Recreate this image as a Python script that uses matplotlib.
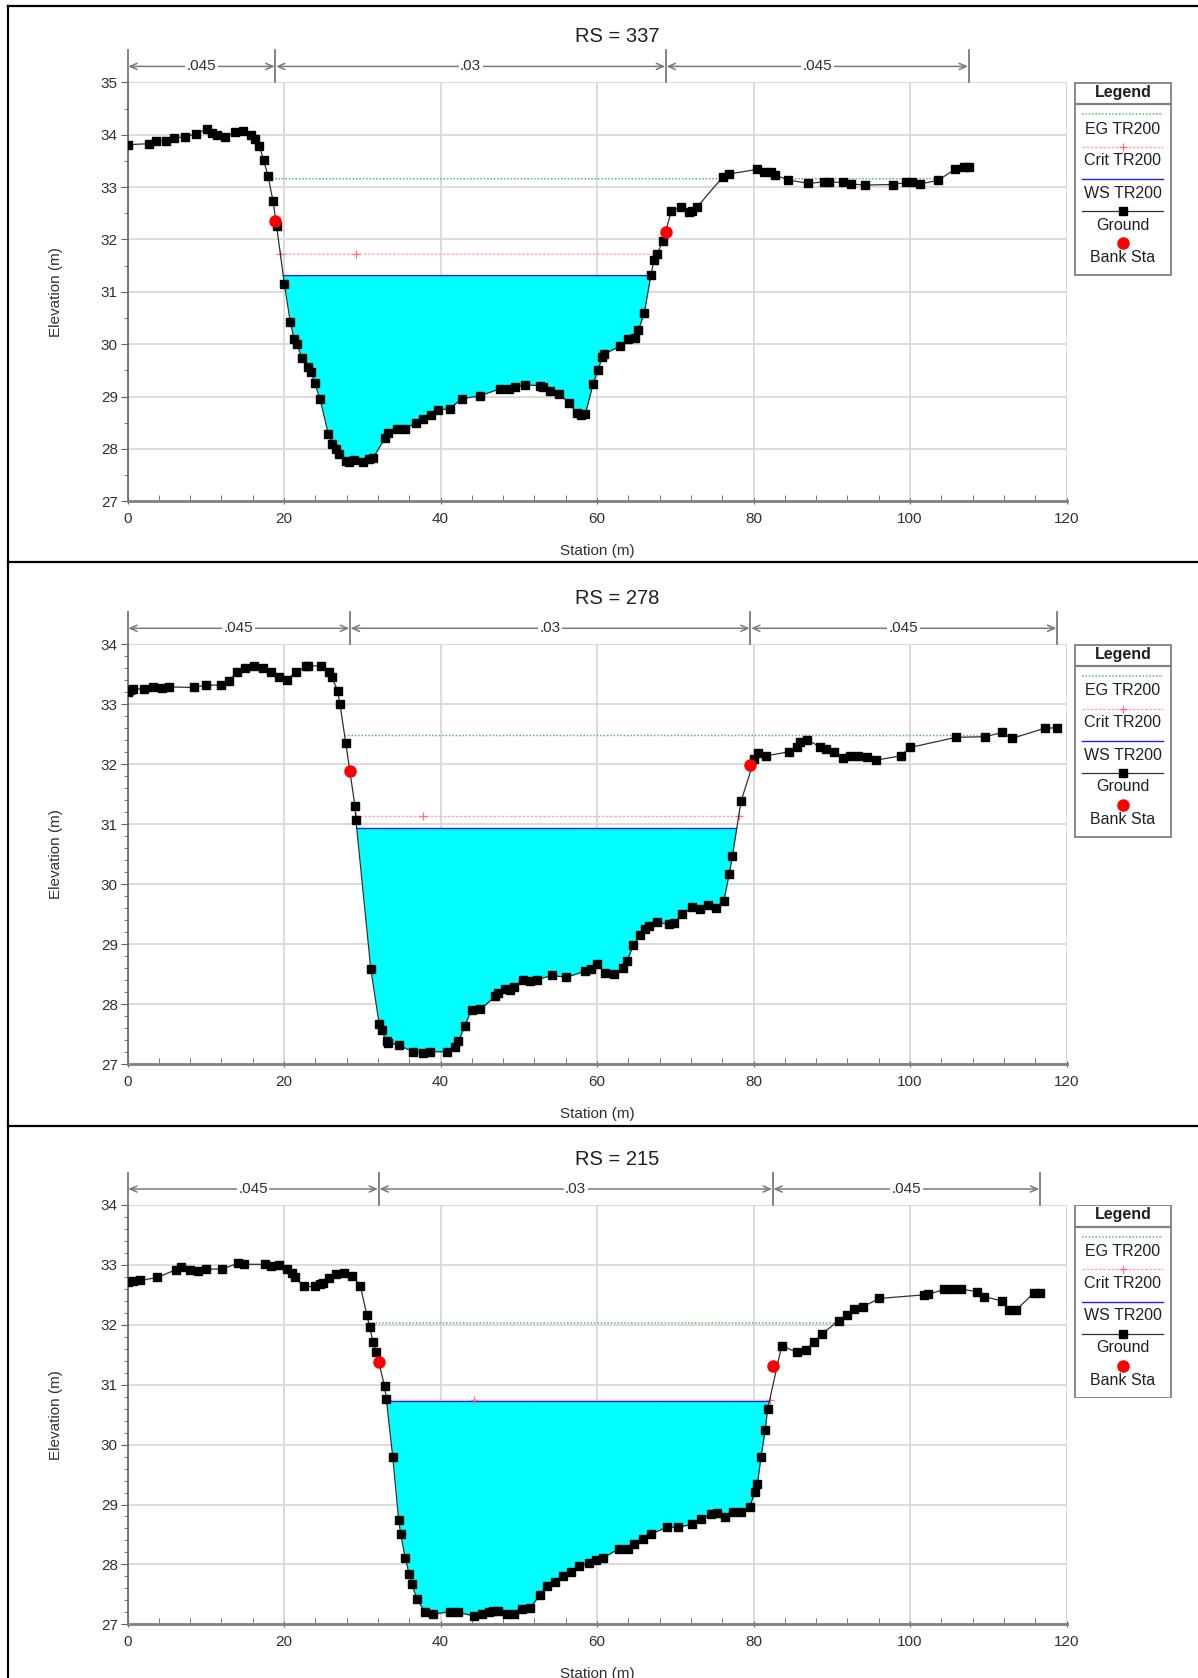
import numpy as np
import matplotlib
matplotlib.use("Agg")
import matplotlib.pyplot as plt
import matplotlib.transforms as mtransforms
from matplotlib.patches import Rectangle

plt.rcParams['font.family'] = ['Liberation Sans', 'DejaVu Sans']

# ---------------- data ----------------
rs_labels = ['RS = 337', 'RS = 278', 'RS = 215']
n_labels = ['.045', '.03', '.045']
legend_labels = ['EG TR200', 'Crit TR200', 'WS TR200', 'Ground', 'Bank Sta']

sta_337 = [0, 2.8, 3.7, 4.9, 6.0, 7.3, 8.75, 10.2, 10.8, 11.5, 12.5, 13.7, 14.8, 15.8, 16.35, 16.85,
           17.4, 17.95, 18.6, 19.05, 20.05, 20.8, 21.3, 21.6, 22.3, 23.1, 23.5, 23.9, 24.6, 25.65,
           26.15, 26.6, 27.05, 27.9, 28.3, 28.9, 30.1, 30.8, 31.4, 32.9, 33.35, 34.5, 35.5, 36.85,
           37.7, 38.8, 39.7, 41.2, 42.7, 45.0, 47.6, 48.8, 49.5, 50.8, 52.7, 53.1, 54.0, 55.2,
           56.4, 57.4, 57.95, 58.5, 59.5, 60.1, 60.7, 60.9, 62.9, 64.0, 64.9, 65.3, 66.05, 66.9,
           67.3, 67.7, 68.45, 69.5, 70.7, 71.7, 72.15, 72.8, 76.1, 76.85, 80.5, 81.4, 82.2, 82.8,
           84.35, 87.0, 88.95, 89.6, 91.4, 92.5, 94.2, 97.8, 99.5, 100.25, 101.3, 103.6, 105.75,
           106.9, 107.5]
elev_337 = [33.81, 33.83, 33.89, 33.89, 33.94, 33.96, 34.02, 34.11, 34.04, 33.99, 33.96, 34.05, 34.08,
            34.00, 33.92, 33.79, 33.51, 33.22, 32.73, 32.26, 31.15, 30.42, 30.10, 30.01, 29.74, 29.57,
            29.47, 29.26, 28.96, 28.29, 28.10, 28.00, 27.91, 27.77, 27.76, 27.79, 27.75, 27.81, 27.83,
            28.21, 28.30, 28.38, 28.39, 28.50, 28.58, 28.64, 28.74, 28.77, 28.96, 29.01, 29.15, 29.15,
            29.18, 29.22, 29.21, 29.18, 29.11, 29.04, 28.88, 28.68, 28.64, 28.66, 29.24, 29.50, 29.76,
            29.81, 29.96, 30.10, 30.12, 30.27, 30.60, 31.33, 31.61, 31.73, 31.98, 32.54, 32.62, 32.52,
            32.55, 32.62, 33.20, 33.25, 33.34, 33.29, 33.28, 33.23, 33.14, 33.07, 33.10, 33.10, 33.09,
            33.06, 33.04, 33.05, 33.09, 33.09, 33.06, 33.13, 33.34, 33.38, 33.38]

sta_278 = [0, 0.3, 0.72, 2.13, 3.28, 4.35, 5.33, 8.48, 10.0, 11.9, 12.95, 13.93, 15.04, 16.15, 17.26,
           18.4, 19.34, 20.4, 21.5, 22.75, 23.1, 24.67, 25.78, 26.08, 26.84, 27.14, 27.9, 29.06, 29.19,
           31.1, 32.17, 32.47, 33.1, 33.3, 34.64, 36.5, 37.7, 38.7, 40.8, 41.8, 42.3, 43.1, 43.97,
           45.1, 47.0, 47.4, 48.2, 48.9, 49.4, 50.5, 51.5, 52.3, 54.2, 56.1, 58.45, 59.2, 60.0, 61.0,
           62.2, 63.3, 63.85, 64.65, 65.55, 66.15, 66.6, 67.7, 69.2, 69.8, 70.9, 72.2, 73.1, 74.2,
           75.15, 76.2, 76.9, 77.3, 78.4, 80.1, 80.6, 81.6, 84.6, 85.5, 85.9, 86.85, 88.5, 89.3, 90.3,
           91.4, 92.3, 93.4, 94.5, 95.7, 98.8, 100.0, 105.9, 109.6, 111.8, 113.0, 117.2, 118.8]
elev_278 = [33.21, 33.24, 33.25, 33.26, 33.28, 33.27, 33.29, 33.28, 33.32, 33.32, 33.39, 33.54, 33.60,
            33.64, 33.61, 33.53, 33.45, 33.41, 33.54, 33.63, 33.64, 33.64, 33.54, 33.46, 33.23, 33.01,
            32.35, 31.31, 31.07, 28.58, 27.67, 27.57, 27.38, 27.36, 27.32, 27.21, 27.18, 27.21, 27.21,
            27.28, 27.38, 27.64, 27.91, 27.92, 28.13, 28.18, 28.25, 28.24, 28.28, 28.41, 28.39, 28.41,
            28.48, 28.45, 28.55, 28.59, 28.67, 28.52, 28.50, 28.60, 28.72, 28.99, 29.16, 29.25, 29.30,
            29.37, 29.33, 29.35, 29.50, 29.62, 29.59, 29.65, 29.61, 29.72, 30.17, 30.47, 31.38, 32.08,
            32.18, 32.14, 32.21, 32.29, 32.37, 32.41, 32.29, 32.25, 32.21, 32.11, 32.13, 32.13, 32.12,
            32.07, 32.14, 32.28, 32.45, 32.46, 32.53, 32.43, 32.60, 32.61]

sta_215 = [0, 0.64, 1.66, 3.8, 6.19, 6.83, 7.98, 8.96, 10.03, 12.12, 14.17, 14.94, 17.58, 18.3, 19.38,
           20.44, 21.0, 21.4, 22.5, 24.0, 24.6, 24.97, 25.8, 26.6, 27.7, 28.7, 29.75, 30.6, 30.94,
           31.37, 31.8, 32.86, 33.08, 33.9, 34.66, 34.91, 35.5, 36.0, 36.3, 37.0, 38.0, 39.05, 41.2,
           42.25, 44.26, 45.3, 46.2, 46.7, 47.4, 48.5, 49.4, 50.45, 51.5, 52.7, 53.65, 54.6, 55.6,
           56.65, 57.7, 59.0, 59.9, 60.8, 62.8, 63.9, 64.7, 65.9, 66.96, 68.9, 70.4, 72.2, 73.3, 74.6,
           75.3, 76.3, 77.35, 78.4, 79.5, 80.2, 80.5, 80.96, 81.5, 81.8, 83.6, 85.6, 86.7, 87.75, 88.8,
           90.87, 91.9, 92.9, 93.95, 96.1, 101.8, 102.3, 104.4, 105.4, 106.5, 108.6, 109.5, 111.7,
           112.65, 113.6, 115.8, 116.6]
elev_215 = [32.71, 32.73, 32.74, 32.79, 32.92, 32.96, 32.91, 32.90, 32.93, 32.93, 33.03, 33.01, 33.01,
            32.98, 32.99, 32.93, 32.86, 32.80, 32.64, 32.64, 32.68, 32.70, 32.78, 32.85, 32.86, 32.82,
            32.65, 32.16, 31.96, 31.72, 31.55, 30.97, 30.76, 29.79, 28.74, 28.51, 28.10, 27.84, 27.68,
            27.42, 27.21, 27.17, 27.21, 27.20, 27.14, 27.17, 27.21, 27.22, 27.22, 27.17, 27.18, 27.26,
            27.28, 27.49, 27.64, 27.71, 27.81, 27.87, 27.97, 28.02, 28.08, 28.11, 28.26, 28.26, 28.34,
            28.42, 28.51, 28.62, 28.62, 28.67, 28.75, 28.84, 28.85, 28.79, 28.87, 28.88, 28.96, 29.21,
            29.35, 29.79, 30.25, 30.59, 31.65, 31.54, 31.58, 31.72, 31.85, 32.07, 32.16, 32.26, 32.30,
            32.44, 32.50, 32.51, 32.59, 32.60, 32.60, 32.55, 32.47, 32.40, 32.25, 32.25, 32.53, 32.53]

bank_sta_337 = [18.9, 68.8]
bank_elev_337 = [32.36, 32.15]
bank_sta_278 = [28.42, 79.6]
bank_elev_278 = [31.88, 31.98]
bank_sta_215 = [32.1, 82.45]
bank_elev_215 = [31.38, 31.32]

ws_levels = [31.31, 30.93, 30.72]
eg_levels = [33.16, 32.48, 32.03]
crit_levels = [31.72, 31.13, 30.74]
crit_mark_sta = [29.2, 37.7, 44.3]

y_limits = [(27, 35), (27, 34), (27, 34)]
y_minor = [0.5, 0.2, 0.2]

# ---------------- layout (pixels) ----------------
W, H = 1198, 1678
fig = plt.figure(figsize=(W / 100, H / 100), dpi=100)

ax_left, ax_right = 127.5, 1066.5
ax_tops = [82.4, 644.3, 1205.0]
ax_bots = [501.3, 1064.3, 1624.3]
title_y = [36.5, 598.5, 1159.5]

def fx(px):
    return px / W

def fy(py):
    return 1 - py / H

sections = [
    (sta_337, elev_337, bank_sta_337, bank_elev_337),
    (sta_278, elev_278, bank_sta_278, bank_elev_278),
    (sta_215, elev_215, bank_sta_215, bank_elev_215),
]

tick_col = '#303030'
grid_col = '#d9d9d9'
arrow_col = '#7a7a7a'
crit_col = '#ffaaaa'

for i, (sta, elev, bsta, belev) in enumerate(sections):
    sta = np.array(sta, float)
    elev = np.array(elev, float)
    top, bot = ax_tops[i], ax_bots[i]
    hpx = bot - top
    ax = fig.add_axes([fx(ax_left), fy(bot), fx(ax_right - ax_left), hpx / H])
    ax.set_xlim(0, 120)
    ax.set_ylim(*y_limits[i])

    ws, eg, crit = ws_levels[i], eg_levels[i], crit_levels[i]
    xs = np.linspace(sta[0], sta[-1], 8000)
    g = np.interp(xs, sta, elev)

    # water fill
    ax.fill_between(sta, elev, ws, where=elev < ws, interpolate=True,
                    color='#00ffff', linewidth=0, zorder=2)
    # WS line
    ax.plot(xs, np.where(g < ws, ws, np.nan), color='#2020ff', lw=1.0, zorder=3)
    # Crit line
    cm = g < crit
    ax.plot(xs, np.where(cm, crit, np.nan), color=crit_col, lw=1.0,
            linestyle=(0, (2, 1)), zorder=3)
    cx = xs[cm]
    ax.plot([cx[0], crit_mark_sta[i], cx[-1]], [crit, crit, crit], linestyle='none',
            marker='+', color='#ff7070', markersize=6, markeredgewidth=0.9, zorder=3)
    # EG line
    ax.plot(xs, np.where(g < eg, eg, np.nan), color='#5fb85f', lw=1.1,
            linestyle=(0, (1, 1.2)), zorder=3)
    # Ground
    ax.plot(sta, elev, color='#303030', lw=0.9, marker='s', markersize=5.3,
            markerfacecolor='black', markeredgecolor='black', zorder=4)
    # Bank stations
    ax.plot(bsta, belev, linestyle='none', marker='o', markersize=8,
            color='#ff0000', zorder=5)

    # axes styling
    ax.set_xticks(np.arange(0, 121, 20))
    ax.set_xticks(np.arange(0, 121, 4), minor=True)
    y0, y1 = y_limits[i]
    ax.set_yticks(np.arange(y0, y1 + 0.01, 1))
    ax.set_yticks(np.arange(y0, y1 + 1e-6, y_minor[i]), minor=True)
    ax.grid(True, which='major', color=grid_col, lw=1.3, zorder=0)
    ax.set_axisbelow(True)
    for s in ['top', 'right']:
        ax.spines[s].set_visible(False)
    ax.spines['left'].set_color('#606060')
    ax.spines['bottom'].set_color('#808080')
    ax.spines['left'].set_linewidth(1.2)
    ax.spines['bottom'].set_linewidth(2.0)
    ax.tick_params(axis='both', which='both', colors='#606060', labelcolor=tick_col,
                   labelsize=11)
    ax.tick_params(axis='y', which='major', length=5, direction='out', pad=2)
    ax.tick_params(axis='y', which='minor', length=3, direction='out')
    ax.tick_params(axis='x', which='major', length=5, direction='inout', pad=5)
    ax.tick_params(axis='x', which='minor', length=4, direction='in')
    # top/right grid borders
    ax.axhline(y1, color=grid_col, lw=1.3, zorder=0)
    ax.axvline(120, color=grid_col, lw=1.3, zorder=0)

    ax.text(0.5, -50.0 / hpx, 'Station (m)', transform=ax.transAxes, ha='center',
            va='center', fontsize=11, color=tick_col)
    fig.text(fx(56), fy((top + bot) / 2), 'Elevation (m)', rotation=90, ha='center',
             va='center', fontsize=11, color=tick_col)
    fig.text(fx(617), fy(title_y[i]), rs_labels[i], ha='center', va='center',
             fontsize=14.5, color='#202020')

    # Manning's n annotation above the plot
    trans = mtransforms.blended_transform_factory(ax.transData, ax.transAxes)
    bounds = [0.0, bsta[0], bsta[1], sta[-1]]
    yv = 1 + 32.0 / hpx
    ya = 1 + 16.0 / hpx
    for b in bounds:
        ax.plot([b, b], [1, yv], transform=trans, color=arrow_col, lw=1.3,
                clip_on=False, zorder=6)
    for k in range(3):
        b1, b2 = bounds[k], bounds[k + 1]
        ax.annotate('', xy=(b2, ya), xytext=(b1, ya), xycoords=trans, textcoords=trans,
                    annotation_clip=False,
                    arrowprops=dict(arrowstyle='<->,head_length=0.5,head_width=0.22',
                                    color=arrow_col, lw=1.1, shrinkA=0.5, shrinkB=0.5))
        ax.text((b1 + b2) / 2, ya, n_labels[k], transform=trans, ha='center', va='center',
                fontsize=11, color='#303030', clip_on=False,
                bbox=dict(boxstyle='square,pad=0.1', fc='white', ec='none'))

    # Legend box
    lg_l, lg_t, lg_w, lg_h = 1074.3, top - 0.1, 97.4, 193.4
    lax = fig.add_axes([fx(lg_l), fy(lg_t + lg_h), fx(lg_w), lg_h / H])
    lax.set_xlim(0, lg_w)
    lax.set_ylim(lg_h, 0)
    lax.axis('off')
    lax.add_patch(Rectangle((0.5, 0.5), lg_w - 1, lg_h - 1, fill=False, ec='#808080', lw=1.3))
    lax.plot([0.5, lg_w - 0.5], [22, 22], color='#808080', lw=1.6)
    lax.text(lg_w / 2, 10, 'Legend', ha='center', va='center', fontsize=11.5,
             fontweight='bold', color='#202020')
    lx = [7.4, 89]
    lax.plot(lx, [32, 32], color='#5fb85f', lw=1.1, linestyle=(0, (1, 1.2)))
    lax.plot(lx, [64.4, 64.4], color=crit_col, lw=1.0, linestyle=(0, (2, 1)))
    lax.plot([lg_w / 2], [64.4], marker='+', color='#ff7070', markersize=6, markeredgewidth=0.9)
    lax.plot(lx, [97, 97], color='#2020ff', lw=1.0)
    lax.plot(lx, [128.7, 128.7], color='#303030', lw=0.9)
    lax.plot([lg_w / 2], [128.7], marker='s', markersize=5.3, color='black')
    lax.plot([lg_w / 2], [161], marker='o', markersize=8, color='#ff0000')
    for t, yy in zip(legend_labels, [46.7, 78.4, 111, 142.7, 175.4]):
        lax.text(lg_w / 2, yy, t, ha='center', va='center', fontsize=11.5, color='#202020')

# panel frames
border_ax = fig.add_axes([0, 0, 1, 1], zorder=-1)
border_ax.set_xlim(0, W)
border_ax.set_ylim(H, 0)
border_ax.axis('off')
for yy in [5.5, 562, 1126]:
    border_ax.plot([7.5, W], [yy, yy], color='black', lw=1.6)
border_ax.plot([7.5, 7.5], [5.5, H], color='black', lw=1.6)

fig.savefig('out.png', dpi=100)
